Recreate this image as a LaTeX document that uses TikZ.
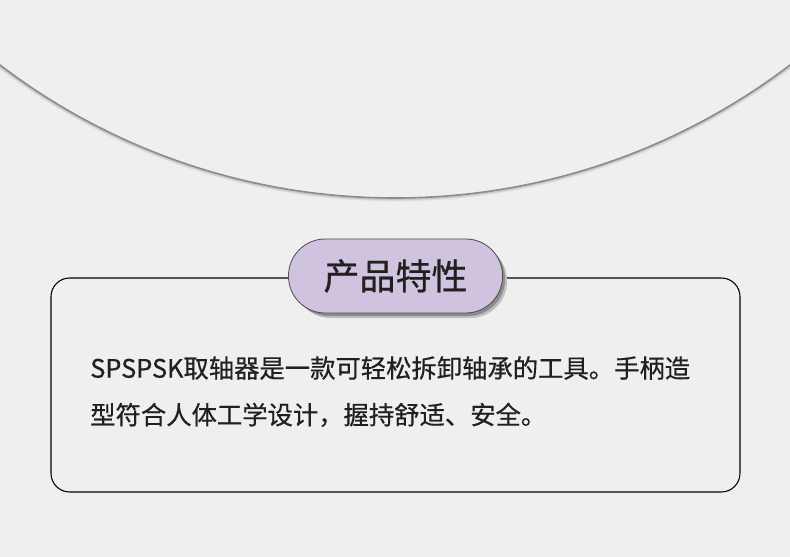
\documentclass[tikz,border=0pt]{standalone}
\usepackage{fontspec}
\newfontfamily\cjk[FakeBold=0.6]{Noto Sans CJK SC}
\definecolor{bg}{HTML}{EFEFEF}
\definecolor{pill}{HTML}{CFC3DF}
\definecolor{txt}{HTML}{231F20}
\tikzset{
  frame/.style={draw=black, line width=0.8pt, rounded corners=14pt},
  pillbox/.style={draw=black!70, line width=0.6pt, fill=pill, rounded corners=27.5pt},
  body/.style={font=\cjk\fontsize{19}{35}\selectfont, text=txt, anchor=north west, align=left, inner sep=0pt}
}
\begin{document}
\begin{tikzpicture}[x=0.75pt,y=-0.75pt]
\useasboundingbox (0,0) rectangle (790,557);
\fill[bg] (0,0) rectangle (790,557);
\begin{scope}
\clip (0,0) rectangle (790,557);
\foreach \i/\c in {4/black!8,3/black!14,2/black!22}{
  \draw[line width=\i*0.75pt, \c] (395,-455) circle[radius=653+\i*0.5];
}
\draw[line width=1.2pt, black!45] (395,-455) circle[radius=653];
\end{scope}
\draw[frame] (51,278) rectangle (740,492);
\fill[black!25, rounded corners=27.5pt] (294,244) rectangle (507,318);
\fill[black!45, rounded corners=27.5pt] (292,242) rectangle (505,316);
\node[pillbox, minimum width=160.5pt, minimum height=55.5pt] (title) at (395.5,276) {};
\node[font=\cjk\fontsize{27}{30}\selectfont, text=txt] at (title) {产品特性};
\node[body] (desc) at (90,356) {SPSPSK取轴器是一款可轻松拆卸轴承的工具。手柄造\\型符合人体工学设计，握持舒适、安全。};
\end{tikzpicture}
\end{document}
